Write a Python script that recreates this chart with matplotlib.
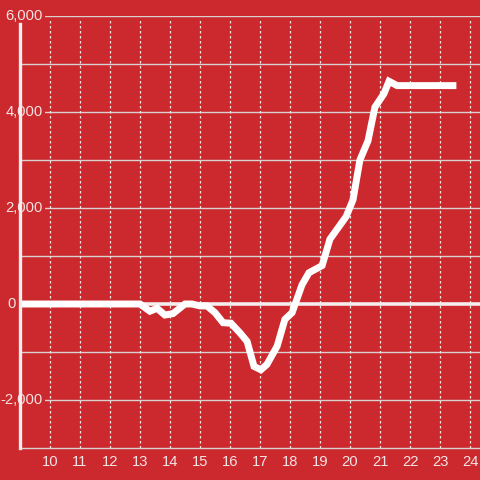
import matplotlib
matplotlib.use("Agg")
import matplotlib.pyplot as plt
from matplotlib.transforms import offset_copy

# ---- data ----
hours = [9.0, 13.0, 13.33, 13.57, 13.83, 14.1, 14.5, 14.73, 15.0, 15.23, 15.5,
         15.77, 16.03, 16.33, 16.57, 16.8, 17.03, 17.23, 17.57, 17.83, 18.07,
         18.4, 18.63, 19.07, 19.33, 19.87, 20.1, 20.33, 20.6, 20.83, 21.13,
         21.3, 21.57, 23.43]
values = [0, 0, -150, -90, -230, -200, 0, 0, -40, -40, -180,
          -390, -400, -600, -780, -1300, -1370, -1260, -880, -320, -180,
          400, 650, 800, 1350, 1820, 2170, 3000, 3400, 4100, 4380,
          4640, 4550, 4550]
x_ticks = [10, 11, 12, 13, 14, 15, 16, 17, 18, 19, 20, 21, 22, 23, 24]
y_label_ticks = [-2000, 0, 2000, 4000, 6000]
y_grid = [-2000, -1000, 1000, 2000, 3000, 4000, 5000, 6000]

BG = "#cc292e"
TXT = "#f3e4e4"
FS = 10.6

fig = plt.figure(figsize=(4.8, 4.8), dpi=100, facecolor=BG)
ax = fig.add_axes([20 / 480, 32 / 480, 460 / 480, 432 / 480])
ax.set_facecolor(BG)
ax.set_xlim(9.0, 24.333)
ax.set_ylim(-3000, 6000)

# grids
for g in y_grid:
    ax.axhline(g, color="#d9d0d0", lw=1.0, zorder=1)
for t in x_ticks:
    ax.axvline(t, ymax=(448 - 2 - 16) / 432, color="#f0e6e6", lw=0.9,
               ls=(0, (2, 2)), zorder=1)
ax.axhline(0, color="#f5eded", lw=2.6, zorder=1.2)

# data line
ax.plot(hours, values, color="white", lw=5.0, zorder=3, solid_joinstyle="miter")

# spines
for s in ["top", "right"]:
    ax.spines[s].set_visible(False)
ax.spines["bottom"].set_color("#d9d0d0")
ax.spines["bottom"].set_linewidth(1.0)
ax.spines["left"].set_color("#f3eeee")
ax.spines["left"].set_linewidth(2.4)
ax.spines["left"].set_zorder(4)
ax.spines["left"].set_bounds(-3000, 5830)

ax.set_xticks(x_ticks)
ax.set_xticklabels([str(t) for t in x_ticks])
ax.tick_params(axis="x", length=0, pad=5, labelsize=FS, labelcolor=TXT)
ax.set_yticks([])
for lab in ax.get_xticklabels():
    lab.set_fontfamily("Liberation Sans")

# y labels with background boxes
ytrans = ax.get_yaxis_transform()
for v in y_label_ticks:
    dx = 23 if v != 0 else -4
    tr = offset_copy(ytrans, fig=fig, x=dx, y=0, units="dots")
    ax.text(0, v, f"{v:,}", transform=tr, ha="right", va="center",
            fontsize=FS, color=TXT, family="Liberation Sans", zorder=2,
            clip_on=False,
            bbox=dict(boxstyle="square,pad=0.12", fc=BG, ec="none"))

fig.savefig("out.png", dpi=100, facecolor=BG)
